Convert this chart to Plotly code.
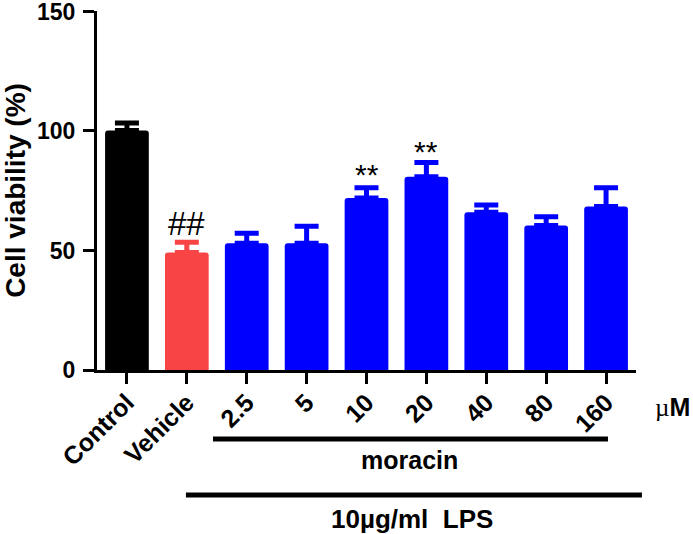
import plotly.graph_objects as go

categories = ["Control", "Vehicle", "2.5", "5", "10", "20", "40", "80", "160"]
viability = [100.2, 49.2, 53.0, 53.0, 72.0, 80.9, 66.0, 60.5, 68.4]
sem = [3.1, 4.2, 4.2, 7.1, 4.3, 5.9, 3.0, 3.6, 7.9]
colors = ["#000000", "#F84444", "#0000FF", "#0000FF", "#0000FF", "#0000FF", "#0000FF", "#0000FF", "#0000FF"]
marks = {"Vehicle": ("##", 61.5), "10": ("**", 82.0), "20": ("**", 91.5)}
y_ticks = [0, 50, 100, 150]

FONT = "Liberation Sans, Arial, sans-serif"

fig = go.Figure()
groups = [(0, 1), (1, 2), (2, 9)]
for a, b in groups:
    fig.add_trace(go.Bar(
        x=list(range(a, b)), y=viability[a:b],
        marker=dict(color=colors[a], line=dict(width=0)),
        width=0.73,
        error_y=dict(type="data", symmetric=False, array=sem[a:b],
                     arrayminus=[0] * (b - a), color=colors[a],
                     thickness=5, width=12),
        showlegend=False,
    ))

for cat, (txt, yv) in marks.items():
    fig.add_annotation(x=categories.index(cat), y=yv, text=txt, showarrow=False,
                       font=dict(family=FONT, size=33 if txt == "##" else 30, color="black"),
                       xanchor="center", yanchor="middle")

# group lines below axis
fig.add_shape(type="line", xref="paper", yref="paper", x0=0.2152, x1=0.948,
              y0=-0.192, y1=-0.192, line=dict(color="black", width=5))
fig.add_shape(type="line", xref="paper", yref="paper", x0=0.165, x1=1.011,
              y0=-0.348, y1=-0.348, line=dict(color="black", width=5))
fig.add_annotation(x=0.579, y=-0.251, xref="paper", yref="paper", text="moracin",
                   showarrow=False, xanchor="center", yanchor="middle",
                   font=dict(family=FONT, size=25, color="black", weight="bold"))
fig.add_annotation(x=0.584, y=-0.415, xref="paper", yref="paper", text="10µg/ml  LPS",
                   showarrow=False, xanchor="center", yanchor="middle",
                   font=dict(family=FONT, size=26, color="black", weight="bold"))
fig.add_annotation(x=1.067, y=-0.103, xref="paper", yref="paper",
                   text="<span style='font-family:Liberation Serif;font-weight:normal'>µ</span>M",
                   showarrow=False, xanchor="center", yanchor="middle",
                   font=dict(family=FONT, size=25, color="black", weight="bold"))

fig.update_layout(
    width=693, height=534,
    margin=dict(l=97, r=57, t=11, b=164, autoexpand=False),
    paper_bgcolor="white", plot_bgcolor="white",
    barmode="overlay", barcornerradius=3,
    font=dict(family=FONT, color="black"),
)
fig.update_xaxes(
    range=[-0.5, 8.5], tickvals=list(range(len(categories))), ticktext=categories,
    showline=True, linecolor="black", linewidth=3, automargin=False,
    ticks="outside", ticklen=11, tickwidth=3, tickcolor="black",
    tickangle=-45, tickfont=dict(family=FONT, size=25, color="black", weight="bold"),
    ticklabelstandoff=-6,
    showgrid=False, zeroline=False,
)
fig.update_yaxes(
    range=[0, 150.2], tickvals=y_ticks, showline=True, linecolor="black", linewidth=3,
    automargin=False,
    ticks="outside", ticklen=11, tickwidth=3, tickcolor="black",
    tickfont=dict(family=FONT, size=23, color="black", weight="bold"),
    ticklabeloverflow="allow", ticklabelstandoff=3,
    showgrid=False, zeroline=False,
    title=dict(text="Cell viability (%)", standoff=10,
               font=dict(family=FONT, size=28, color="black", weight="bold")),
)

fig.write_html("out.html", post_script="document.body.style.margin='0';",
               config={"displayModeBar": False})
